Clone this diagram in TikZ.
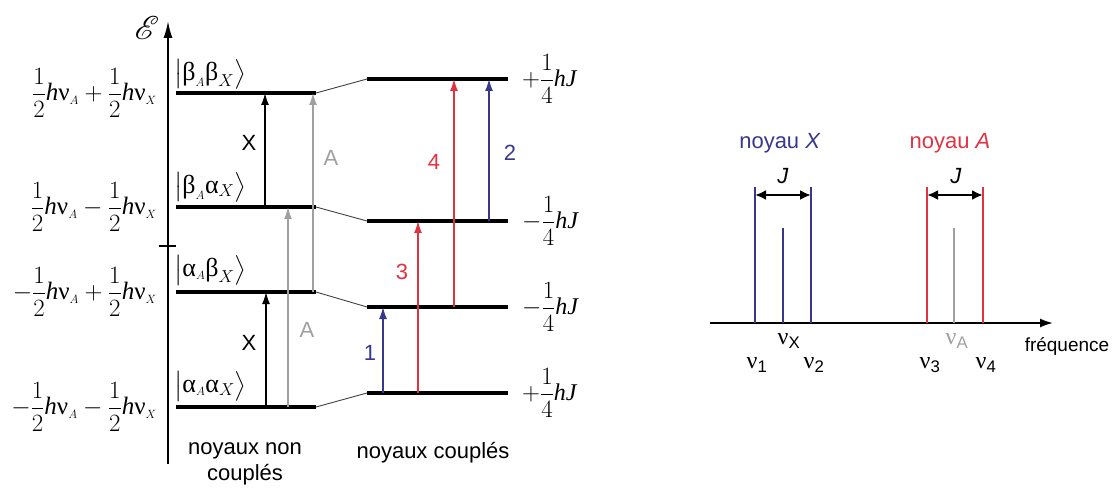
\documentclass[tikz,border=0pt]{standalone}
\usepackage{amsmath}
\usepackage{mathrsfs}
\usepackage{fontspec}
\setmainfont{Liberation Sans}
\setmathrm{Liberation Serif}
\newfontfamily\serifgr{Liberation Serif}
\usetikzlibrary{arrows.meta}
\definecolor{nblue}{RGB}{55,55,140}
\definecolor{nred}{RGB}{225,50,65}
\definecolor{ngray}{RGB}{160,160,160}
\newcommand{\gnu}{\text{\serifgr ν}}
\newcommand{\gal}{\text{\serifgr α}}
\newcommand{\gbe}{\text{\serifgr β}}
\newcommand{\ih}{\text{\serifgr\itshape h}}
\newcommand{\iJ}{\text{\serifgr\itshape J}}
\newcommand{\hnu}[1]{\ih\gnu_{\scriptscriptstyle #1}}
\newcommand{\myket}[1]{\bigl\lvert #1\bigr\rangle}
\begin{document}
\begin{tikzpicture}[x=1pt,y=-1pt,
  level/.style={line width=3.2pt},
  link/.style={line width=0.9pt,draw=black!75},
  tr/.style={line width=1.4pt,-{Latex[length=12pt,width=8pt]}},
  lab/.style={font=\fontsize{22}{26}\selectfont,inner sep=0pt},
  en/.style={font=\fontsize{25}{29}\selectfont,inner sep=0pt},
  enr/.style={font=\fontsize{24}{28}\selectfont,inner sep=0pt,anchor=west},
  ket/.style={font=\fontsize{26}{30}\selectfont,inner sep=0pt,anchor=west},
  peak/.style={line width=1.5pt},
  nu/.style={font=\fontsize{24}{28}\selectfont,inner sep=0pt}]
\useasboundingbox (0,0) rectangle (1114,497);
% energy axis
\coordinate (ax0) at (168,464);
\coordinate (ax1) at (168,21);
\draw[line width=1.8pt,-{Latex[length=17pt,width=9pt]}] (ax0) -- (ax1);
\coordinate (tk0) at (159,246);
\coordinate (tk1) at (176,246);
\draw[line width=1.2pt] (tk0) -- (tk1);
\node[inner sep=0pt] (E) at (147,28) {\scalebox{3.3}{$\mathscr{E}$}};
% uncoupled levels
\foreach \n/\y in {bb/93,ba/207,ab/292,aa/407}{
  \coordinate (\n L) at (176,\y);
  \coordinate (\n R) at (316,\y);
}
% coupled levels
\foreach \n/\y in {cbb/79,cba/221,cab/307,caa/393}{
  \coordinate (\n L) at (367,\y);
  \coordinate (\n R) at (508,\y);
}
\foreach \n in {bb,ba,ab,aa,cbb,cba,cab,caa}{\draw[level] (\n L) -- (\n R);}
\draw[link] (bbR) -- (cbbL);
\draw[link] (baR) -- (cbaL);
\draw[link] (abR) -- (cabL);
\draw[link] (aaR) -- (caaL);
% kets
\node[ket] (kbb) at (174,74) {$\myket{\gbe_{\scriptscriptstyle A}\gbe_X}$};
\node[ket] (kba) at (174,187) {$\myket{\gbe_{\scriptscriptstyle A}\gal_X}$};
\node[ket] (kab) at (174,270) {$\myket{\gal_{\scriptscriptstyle A}\gbe_X}$};
\node[ket] (kaa) at (174,386) {$\myket{\gal_{\scriptscriptstyle A}\gal_X}$};
% left energies
\node[en,anchor=east] (ebb) at (157,93) {$\dfrac{1}{2}\hnu{A}+\dfrac{1}{2}\hnu{X}$};
\node[en,anchor=east] (eba) at (157,207) {$\dfrac{1}{2}\hnu{A}-\dfrac{1}{2}\hnu{X}$};
\node[en,anchor=east] (eab) at (157,292) {$-\dfrac{1}{2}\hnu{A}+\dfrac{1}{2}\hnu{X}$};
\node[en,anchor=east] (eaa) at (157,407) {$-\dfrac{1}{2}\hnu{A}-\dfrac{1}{2}\hnu{X}$};
% right energies
\node[enr] (rbb) at (522,79) {$+\dfrac{1}{4}\ih\iJ$};
\node[enr] (rba) at (522,221) {$-\dfrac{1}{4}\ih\iJ$};
\node[enr] (rab) at (522,307) {$-\dfrac{1}{4}\ih\iJ$};
\node[enr] (raa) at (522,393) {$+\dfrac{1}{4}\ih\iJ$};
% uncoupled transitions
\coordinate (x1s) at (265,207); \coordinate (x1e) at (265,93);
\coordinate (x2s) at (266,407); \coordinate (x2e) at (266,292);
\coordinate (a1s) at (313,292); \coordinate (a1e) at (313,93);
\coordinate (a2s) at (288,407); \coordinate (a2e) at (288,207);
\draw[tr,black] (x1s) -- (x1e);
\draw[tr,black] (x2s) -- (x2e);
\draw[tr,ngray] (a1s) -- (a1e);
\draw[tr,ngray] (a2s) -- (a2e);
\node[lab] (lx1) at (249,143) {X};
\node[lab] (lx2) at (249,343) {X};
\node[lab,text=ngray] (la1) at (331,158) {A};
\node[lab,text=ngray] (la2) at (307,330) {A};
% coupled transitions
\coordinate (t1s) at (383,393); \coordinate (t1e) at (383,307);
\coordinate (t3s) at (418,393); \coordinate (t3e) at (418,221);
\coordinate (t4s) at (454,307); \coordinate (t4e) at (454,79);
\coordinate (t2s) at (489,221); \coordinate (t2e) at (489,79);
\draw[tr,nblue] (t1s) -- (t1e);
\draw[tr,nred] (t3s) -- (t3e);
\draw[tr,nred] (t4s) -- (t4e);
\draw[tr,nblue] (t2s) -- (t2e);
\node[lab,text=nblue] (l1) at (370,353) {1};
\node[lab,text=nred] (l3) at (402,272) {3};
\node[lab,text=nred] (l4) at (434,162) {4};
\node[lab,text=nblue] (l2) at (510,153) {2};
% bottom captions
\node[lab,align=center,anchor=north] (cap1) at (245,442) {noyaux non\\couplés};
\node[lab,anchor=north] (cap2) at (433,442) {noyaux couplés};
% spectrum
\coordinate (s0) at (710,323);
\coordinate (s1) at (1053,323);
\draw[line width=1.8pt,-{Latex[length=13pt,width=9pt]}] (s0) -- (s1);
\foreach \n/\x/\y/\c in {p1/755/187/nblue,pX/783/228/nblue,p2/811/187/nblue,p3/927/187/nred,pA/954/228/ngray,p4/983/187/nred}{
  \coordinate (\n t) at (\x,\y);
  \coordinate (\n b) at (\x,323);
  \draw[peak,\c] (\n b) -- (\n t);
}
\coordinate (jx0) at (755,195); \coordinate (jx1) at (811,195);
\coordinate (ja0) at (927,195); \coordinate (ja1) at (983,195);
\draw[line width=2.2pt,{Latex[length=11pt,width=10pt]}-{Latex[length=11pt,width=10pt]}] (jx0) -- (jx1);
\draw[line width=2.2pt,{Latex[length=11pt,width=10pt]}-{Latex[length=11pt,width=10pt]}] (ja0) -- (ja1);
\node[lab] (jX) at (783,176) {\textit{J}};
\node[lab] (jA) at (956,176) {\textit{J}};
\node[lab,text=nblue] (nX) at (780,143) {noyau \textit{X}};
\node[lab,text=nred] (nA) at (950,143) {noyau \textit{A}};
\node[nu] (vX) at (789,341) {$\gnu_{\text{X}}$};
\node[nu,text=ngray] (vA) at (957,341) {$\gnu_{\text{A}}$};
\node[nu] (v1) at (757,365) {$\gnu_{\text{1}}$};
\node[nu] (v2) at (814,365) {$\gnu_{\text{2}}$};
\node[nu] (v3) at (930,365) {$\gnu_{\text{3}}$};
\node[nu] (v4) at (986,365) {$\gnu_{\text{4}}$};
\node[inner sep=0pt,font=\fontsize{19}{22}\selectfont] (fr) at (1067,346) {fréquence};
\end{tikzpicture}
\end{document}
